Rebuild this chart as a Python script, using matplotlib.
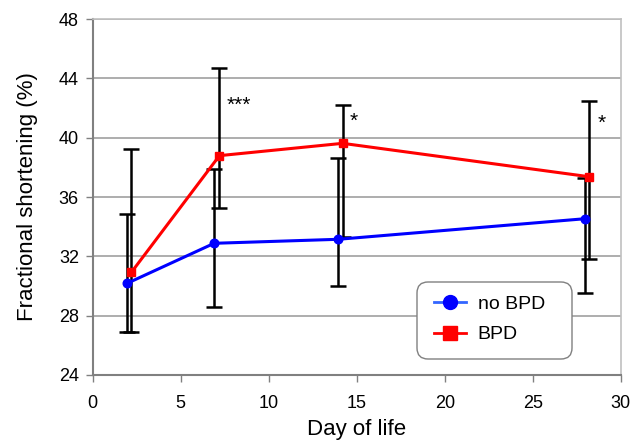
import matplotlib
matplotlib.use("Agg")
import matplotlib.pyplot as plt
import numpy as np
from matplotlib.lines import Line2D
from matplotlib.patches import FancyBboxPatch
from matplotlib.transforms import IdentityTransform

plt.rcParams['font.family'] = ['Liberation Sans', 'DejaVu Sans']

# Data
days_nobpd = [1.95, 6.9, 13.95, 28.0]
fs_nobpd = [30.18, 32.88, 33.15, 34.54]
nobpd_upper = [34.86, 37.87, 38.61, 37.3]
nobpd_lower = [26.92, 28.57, 30.02, 29.51]

days_bpd = [2.2, 7.2, 14.2, 28.2]
fs_bpd = [30.93, 38.79, 39.62, 37.37]
bpd_upper = [39.22, 44.72, 42.2, 42.5]
bpd_lower = [26.92, 35.24, 33.3, 31.84]

sig_labels = ["***", "*", "*"]
sig_x = [7.6, 14.6, 28.7]
sig_y = [42.2, 41.1, 40.95]

xticks = [0, 5, 10, 15, 20, 25, 30]
yticks = [24, 28, 32, 36, 40, 44, 48]
legend_labels = ['no BPD', 'BPD']

W, H = 644, 443
fig = plt.figure(figsize=(W / 100, H / 100), dpi=100)
ax = fig.add_axes([0.144, 0.1535, 0.8198, 0.8035])

def err(vals, up, lo):
    v = np.array(vals); return [v - np.array(lo), np.array(up) - v]

ax.errorbar(days_nobpd, fs_nobpd, yerr=err(fs_nobpd, nobpd_upper, nobpd_lower),
            fmt='none', ecolor='black', elinewidth=1.8, capsize=5.5, capthick=1.8, zorder=3)
ax.errorbar(days_bpd, fs_bpd, yerr=err(fs_bpd, bpd_upper, bpd_lower),
            fmt='none', ecolor='black', elinewidth=1.8, capsize=5.5, capthick=1.8, zorder=3)

ax.plot(days_nobpd, fs_nobpd, color='#0000ff', lw=2.2, marker='o', ms=6.2,
        markeredgecolor='#0000ff', zorder=4)
ax.plot(days_bpd, fs_bpd, color='#ff0000', lw=2.2, marker='s', ms=5.8,
        markeredgecolor='#ff0000', zorder=5)

for t, x, y in zip(sig_labels, sig_x, sig_y):
    ax.text(x, y, t, fontsize=15, ha='left', va='center', color='black')

ax.set_xlim(0, 30)
ax.set_ylim(24, 48)
ax.set_xticks(xticks)
ax.set_yticks(yticks)
ax.set_xticklabels([str(v) for v in xticks])
ax.set_yticklabels([str(v) for v in yticks])
ax.tick_params(axis='both', labelsize=13, colors='#808080', labelcolor='black',
               length=5, width=1, direction='out')
ax.tick_params(axis='x', pad=9.5)
ax.tick_params(axis='y', pad=5)

ax.grid(axis='y', color='#a0a0a0', lw=1.2)
ax.set_axisbelow(True)
for s in ['left', 'bottom']:
    ax.spines[s].set_color('#808080')
    ax.spines[s].set_linewidth(1.5)
for s in ['top', 'right']:
    ax.spines[s].set_color('#c0c0c0')
    ax.spines[s].set_linewidth(1.2)

ax.set_xlabel('Day of life', fontsize=16, labelpad=5)
ax.set_ylabel('Fractional shortening (%)', fontsize=16, labelpad=15)

# legend frame (rounded box) drawn in pixel space
box = FancyBboxPatch((417, H - 359), 155, 77,
                     boxstyle='round,pad=0,rounding_size=11',
                     transform=IdentityTransform(), facecolor='white',
                     edgecolor='#808080', lw=1.0, zorder=6)
ax.add_artist(box)

h1 = Line2D([], [], color='#3366ff', lw=2, marker='o', ms=10,
            markerfacecolor='#0000ff', markeredgecolor='#0000ff')
h2 = Line2D([], [], color='#ff0000', lw=2, marker='s', ms=9.5,
            markerfacecolor='#ff0000', markeredgecolor='#ff0000')
leg = ax.legend(handles=[h1, h2], labels=legend_labels, loc='center left',
                bbox_to_anchor=((434 - 92.7) / 528, (375 - 319.5) / 356),
                borderaxespad=0, borderpad=0, fontsize=14, frameon=False,
                handlelength=1.65, handletextpad=0.6, labelspacing=0.65)
leg.set_zorder(7)

fig.savefig('out.png', dpi=100)
